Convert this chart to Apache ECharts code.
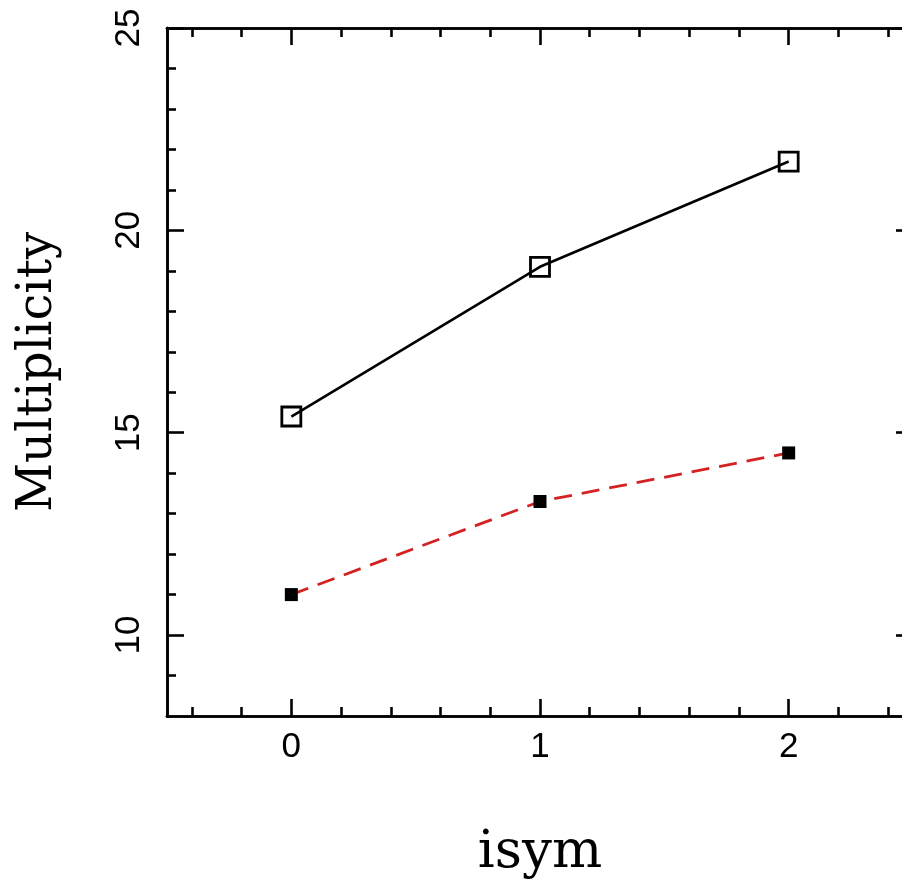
<!DOCTYPE html>
<html>
<head>
<meta charset="utf-8">
<title>Multiplicity vs isym</title>
<script src="https://cdn.jsdelivr.net/npm/echarts@6/dist/echarts.min.js"></script>
<style>
  html, body { margin: 0; padding: 0; background: #fff; }
  #chart { width: 902px; height: 882px; }
</style>
</head>
<body>
<div id="chart"></div>
<script>
// isym values on the x axis
const isym = [0, 1, 2];
// multiplicity, open squares (solid black line)
const multOpen = [15.4, 19.1, 21.7];
// multiplicity, filled squares (red dashed line)
const multFilled = [11.0, 13.3, 14.5];

// axis ranges and tick positions
const xRange = [-0.5, 2.5];
const yRange = [8, 25];
const xMajor = [0, 1, 2];
const xMinor = [-0.4, -0.2, 0.2, 0.4, 0.6, 0.8, 1.2, 1.4, 1.6, 1.8, 2.2, 2.4];
const yMajor = [10, 15, 20, 25];
const yMinor = [9, 11, 12, 13, 14, 16, 17, 18, 19, 21, 22, 23, 24];

const INK = '#000';
// the frame runs slightly past the right edge of the page
const gridRect = { left: 167, top: 28, width: 746, height: 688, outerBoundsMode: 'none', containLabel: false };

function xAxisDef(gridIndex, position, ticks, len, labels, extra) {
  return Object.assign({
    type: 'value', gridIndex, position,
    min: xRange[0], max: xRange[1],
    axisLine: { show: true, onZero: false, lineStyle: { color: INK, width: 2.6 } },
    axisTick: { show: true, inside: true, length: len, customValues: ticks,
                lineStyle: { color: INK, width: 2.6 } },
    axisLabel: labels ? {
      show: true, customValues: labels, margin: 14,
      fontFamily: 'Liberation Sans', fontSize: 35, color: INK
    } : { show: false },
    splitLine: { show: false }
  }, extra || {});
}

function yAxisDef(gridIndex, position, ticks, len, labels, extra) {
  return Object.assign({
    type: 'value', gridIndex, position,
    min: yRange[0], max: yRange[1],
    axisLine: { show: true, onZero: false, lineStyle: { color: INK, width: 2.6 } },
    axisTick: { show: true, inside: true, length: len, customValues: ticks,
                lineStyle: { color: INK, width: 2.6 } },
    axisLabel: labels ? {
      show: true, customValues: labels, rotate: 90, margin: 20,
      fontFamily: 'Liberation Sans', fontSize: 35, color: INK
    } : { show: false },
    splitLine: { show: false }
  }, extra || {});
}

const option = {
  animation: false,
  backgroundColor: '#fff',
  grid: [
    Object.assign({}, gridRect),
    Object.assign({}, gridRect)
  ],
  xAxis: [
    xAxisDef(0, 'bottom', xMajor, 17, xMajor, {
      name: 'isym', nameLocation: 'middle', nameGap: 111,
      nameTextStyle: { fontFamily: 'DejaVu Serif', fontSize: 53, color: INK }
    }),
    xAxisDef(0, 'top', xMajor, 17, null),
    xAxisDef(1, 'bottom', xMinor, 9, null),
    xAxisDef(1, 'top', xMinor, 9, null)
  ],
  yAxis: [
    yAxisDef(0, 'left', yMajor, 17, yMajor, {
      name: 'Multiplicity', nameLocation: 'middle', nameGap: 104, nameRotate: 90,
      nameTextStyle: { fontFamily: 'DejaVu Serif', fontSize: 48, color: INK }
    }),
    yAxisDef(0, 'right', yMajor, 17, null),
    yAxisDef(1, 'left', yMinor, 9, null),
    yAxisDef(1, 'right', yMinor, 9, null)
  ],
  series: [
    {
      type: 'line', xAxisIndex: 0, yAxisIndex: 0,
      data: isym.map((x, i) => [x, multOpen[i]]),
      symbol: 'rect', symbolSize: 19,
      lineStyle: { color: INK, width: 2.6 },
      itemStyle: { color: 'rgba(0,0,0,0)', borderColor: INK, borderWidth: 2.8 },
      z: 3
    },
    {
      type: 'line', xAxisIndex: 0, yAxisIndex: 0,
      data: isym.map((x, i) => [x, multFilled[i]]),
      symbol: 'rect', symbolSize: 13,
      lineStyle: { color: '#d42222', width: 2.8, type: [18, 10] },
      itemStyle: { color: INK, borderWidth: 0 },
      z: 3
    }
  ]
};

const chart = echarts.init(document.getElementById('chart'), null, { renderer: 'canvas' });
chart.setOption(option);
</script>
</body>
</html>
